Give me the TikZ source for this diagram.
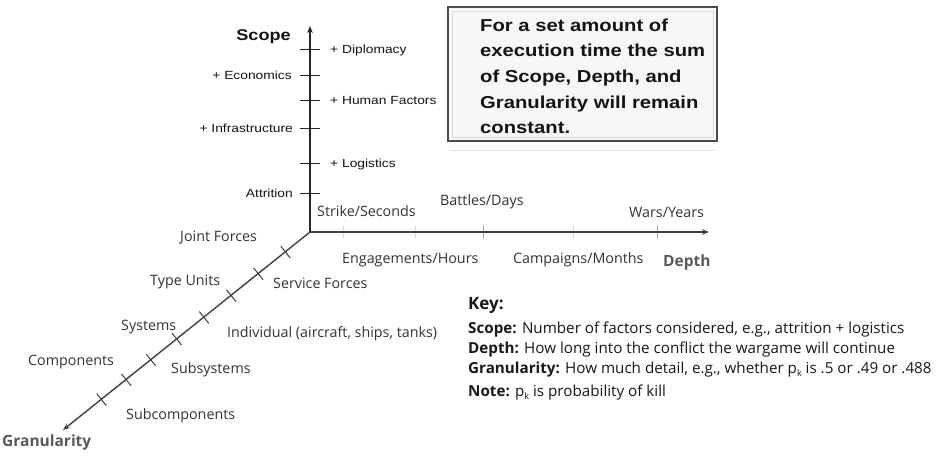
\documentclass[tikz,border=0pt]{standalone}
\usepackage{fontspec}
\setmainfont{Open Sans}
\newfontfamily\arialw[FakeStretch=1.17]{Liberation Sans}
\usetikzlibrary{arrows.meta,calc}
\newcommand{\subk}{\raisebox{-0.45ex}{\fontsize{9}{9}\selectfont k}}
\begin{document}
\begin{tikzpicture}[x=1pt,y=-1pt,
  lab/.style={inner sep=0pt, text=black!80, font=\fontsize{14.3}{16}\selectfont},
  axlab/.style={inner sep=0pt, text=black!65, font=\bfseries\fontsize{15.5}{17}\selectfont},
  slab/.style={inner sep=0pt, text=black!92, font=\arialw\fontsize{11.8}{13}\selectfont},
  keylab/.style={inner sep=0pt, text=black!90, font=\fontsize{15.2}{17}\selectfont},
  axisline/.style={line width=1.4pt, draw=black!85, -{Stealth[length=7pt,width=5.5pt]}},
  sticks/.style={line width=1pt, draw=black!85},
  dtick/.style={line width=0.8pt, draw=black!35},
  dtickf/.style={line width=0.8pt, draw=black!15},
  gtick/.style={line width=1pt, draw=black!75},
  boxline/.style={line width=1.3pt, draw=black!70, fill=black!3},
]
\useasboundingbox[fill=white] (0,0) rectangle (950,466);

% axes
\coordinate (O) at (310,232);
\coordinate (S) at (310,26);
\coordinate (D) at (709,232);
\coordinate (G) at (63,430);

% depth ticks
\foreach \x in {343,415,573} \draw[dtickf] (\x,226) -- (\x,238);
\foreach \x in {483,657} \draw[dtick] (\x,225) -- (\x,239);

% granularity ticks
\foreach \t in {0.10,0.21,0.32,0.43,0.54,0.645,0.745,0.845}
  \draw[gtick] ($(O)!\t!(G)+(-4.5,-5.6)$) -- ($(O)!\t!(G)+(5,6.2)$);

% scope ticks
\foreach \y in {49,75,100,128,163,193} \draw[sticks] (300,\y) -- (320,\y);

\draw[axisline] (O) -- (S);
\draw[axisline, draw=black!75] (O) -- (D);
\draw[axisline, draw=black!75] (O) -- (G);

% scope labels
\node[slab, font=\arialw\bfseries\fontsize{15.5}{17}\selectfont, anchor=base east] (scope) at (291,40) {Scope};
\node[slab, anchor=base west] (dip) at (330,53) {+ Diplomacy};
\node[slab, anchor=base east] (eco) at (292,79) {+ Economics};
\node[slab, anchor=base west] (hum) at (330,104) {+ Human Factors};
\node[slab, anchor=base east] (inf) at (293,132) {+ Infrastructure};
\node[slab, anchor=base west] (log) at (330,167) {+ Logistics};
\node[slab, anchor=base east] (att) at (293,197) {Attrition};

% depth labels
\node[lab, anchor=base west] (strike) at (317,216) {Strike/Seconds};
\node[lab, anchor=base west] (battle) at (440,205) {Battles/Days};
\node[lab, anchor=base west] (wars) at (629,217) {Wars/Years};
\node[lab, anchor=base west] (eng) at (342,263) {Engagements/Hours};
\node[lab, anchor=base west] (camp) at (513,263) {Campaigns/Months};
\node[axlab, anchor=base west] (depth) at (663,266) {Depth};

% granularity labels
\node[lab, anchor=base west] (joint) at (180,241) {Joint Forces};
\node[lab, anchor=base west] (type) at (150,285) {Type Units};
\node[lab, anchor=base west] (serv) at (273,288) {Service Forces};
\node[lab, anchor=base west] (sys) at (121,330) {Systems};
\node[lab, anchor=base west] (indiv) at (227,337) {Individual (aircraft, ships, tanks)};
\node[lab, anchor=base west] (comp) at (28,365) {Components};
\node[lab, anchor=base west] (subsys) at (171,373) {Subsystems};
\node[lab, anchor=base west] (subcomp) at (126,419) {Subcomponents};
\node[axlab, anchor=base west] (gran) at (2,446) {Granularity};

% box
\draw[line width=1pt, draw=black!12] (450,150) -- (716,150);
\draw[boxline] (448,7) rectangle (717,141);
\draw[line width=0.8pt, draw=black!15] (452,11) rectangle (713,137);
\node[inner sep=0pt, anchor=north west, align=left, text=black!92,
  font=\arialw\bfseries\fontsize{17.3}{25.7}\selectfont] (boxtext) at (480,18.4)
  {For a set amount of\\execution time the sum\\of Scope, Depth, and\\Granularity will remain\\constant.};

% key
\node[keylab, font=\bfseries\fontsize{17}{19}\selectfont, anchor=base west] (key) at (468,309) {Key:};
\node[keylab, anchor=base west] (k1) at (468,333) {\textbf{Scope:} Number of factors considered, e.g., attrition + logistics};
\node[keylab, anchor=base west] (k2) at (468,353) {\textbf{Depth:} How long into the conflict the wargame will continue};
\node[keylab, anchor=base west] (k3) at (468,373) {\textbf{Granularity:} How much detail, e.g., whether p\subk{} is .5 or .49 or .488};
\node[keylab, anchor=base west] (k4) at (468,396) {\textbf{Note:} p\subk{} is probability of kill};
\end{tikzpicture}
\end{document}
